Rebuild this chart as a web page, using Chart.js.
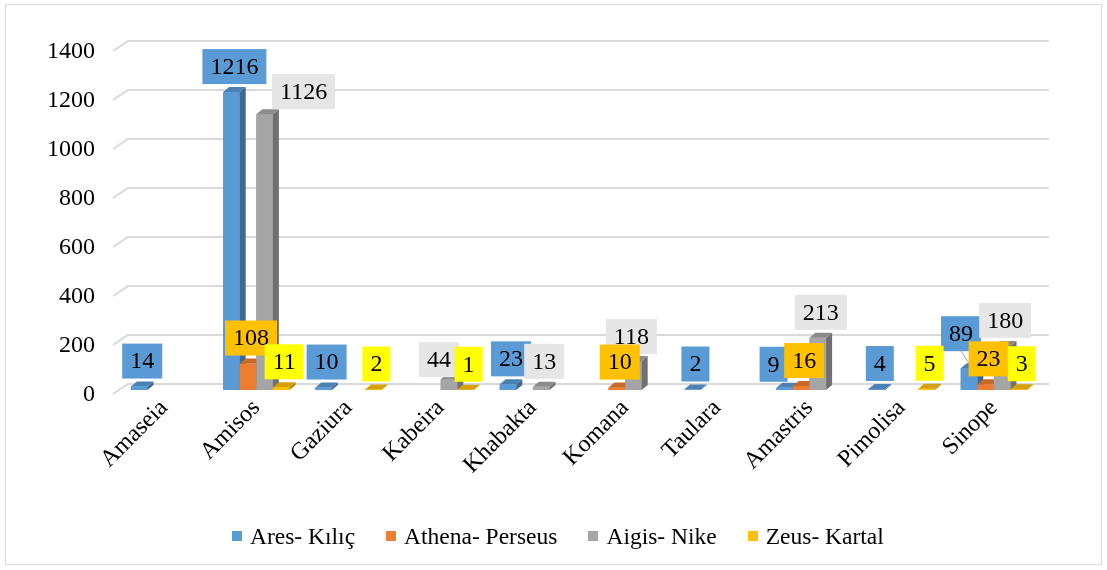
<!DOCTYPE html>
<html>
<head>
<meta charset="utf-8">
<script src="https://cdn.jsdelivr.net/npm/chart.js@4.4.0/dist/chart.umd.min.js"></script>
<style>
  html, body { margin: 0; padding: 0; background: #fff; }
  #wrap { position: relative; width: 1107px; height: 570px; }
  #frame { position: absolute; left: 5px; top: 4px; width: 1097px; height: 561px; border: 1px solid #d9d9d9; box-sizing: border-box; pointer-events: none; }
  #legend { position: absolute; left: 232px; top: 523px; display: flex; align-items: center; font: 23.5px/26px "Liberation Serif", "Times New Roman", serif; color: #000; white-space: nowrap; }
  #legend .item { display: flex; align-items: center; margin-right: 31px; }
  #legend .sw { width: 10px; height: 10px; margin-right: 8px; }
</style>
</head>
<body>
<div id="wrap">
  <canvas id="chart" width="1107" height="570"></canvas>
  <div id="legend"></div>
  <div id="frame"></div>
</div>
<script>
const cities = ['Amaseia', 'Amisos', 'Gaziura', 'Kabeira', 'Khabakta', 'Komana', 'Taulara', 'Amastris', 'Pimolisa', 'Sinope'];
const ares = [14, 1216, 10, null, 23, null, 2, 9, 4, 89];
const athena = [null, 108, null, null, null, 10, null, 16, null, 23];
const aigis = [null, 1126, null, 44, 13, 118, null, 213, null, 180];
const zeus = [null, 11, 2, 1, null, null, null, null, 5, 3];
const seriesNames = ['Ares- Kılıç', 'Athena- Perseus', 'Aigis- Nike', 'Zeus- Kartal'];
const yMax = 1400;
const yStep = 200;

const serif = '"Liberation Serif", "Times New Roman", serif';
const barColors = ['#5B9BD5', '#ED7D31', '#A5A5A5', '#FFC000'];
const labelColors = ['#5B9BD5', '#FFC000', '#E7E6E6', '#FFFF00'];
const depth = { dx: 6, dy: 5 };

// Excel moved a few labels sideways to keep them apart
const labelNudge = {
  '2-1': { x: 36, y: 3 },
  '2-3': { x: -13, y: 6 },
  '2-5': { x: -5, y: 1 },
  '0-7': { x: -14, y: 2 },
  '0-9': { x: -11, y: -9, leader: true }
};

Chart.defaults.font.family = serif;
Chart.defaults.font.size = 22;
Chart.defaults.color = '#000';

const shade = (hex, f) => {
  const n = parseInt(hex.slice(1), 16);
  const r = Math.round(((n >> 16) & 255) * f);
  const g = Math.round(((n >> 8) & 255) * f);
  const b = Math.round((n & 255) * f);
  return `rgb(${r},${g},${b})`;
};

const floorGrid = {
  id: 'floorGrid',
  beforeDatasetsDraw(chart) {
    const { ctx, chartArea, scales } = chart;
    const y = scales.y;
    ctx.save();
    ctx.strokeStyle = '#d9d9d9';
    ctx.lineWidth = 2;
    y.ticks.forEach(t => {
      const py = y.getPixelForValue(t.value);
      ctx.beginPath();
      ctx.moveTo(chartArea.left - 5, py + 4);
      ctx.lineTo(chartArea.left + 10, py - 6);
      ctx.lineTo(chartArea.right + 9, py - 6);
      ctx.stroke();
    });
    ctx.restore();
  }
};

const bars3d = {
  id: 'bars3d',
  afterDatasetsDraw(chart) {
    const ctx = chart.ctx;
    const { dx, dy } = depth;
    ctx.save();
    chart.data.datasets.forEach((ds, i) => {
      const meta = chart.getDatasetMeta(i);
      meta.data.forEach((bar, j) => {
        if (ds.data[j] == null) return;
        const { x, y, base, width } = bar.getProps(['x', 'y', 'base', 'width'], true);
        const l = x - width / 2, r = x + width / 2;
        const c = barColors[i];
        ctx.fillStyle = c;
        ctx.fillRect(l, y, width, base - y);
        ctx.fillStyle = shade(c, 0.68);
        ctx.beginPath();
        ctx.moveTo(r, y); ctx.lineTo(r + dx, y - dy); ctx.lineTo(r + dx, base - dy); ctx.lineTo(r, base);
        ctx.closePath(); ctx.fill();
        ctx.fillStyle = shade(c, 0.84);
        ctx.beginPath();
        ctx.moveTo(l, y); ctx.lineTo(l + dx, y - dy); ctx.lineTo(r + dx, y - dy); ctx.lineTo(r, y);
        ctx.closePath(); ctx.fill();
      });
    });

    ctx.font = `24px ${serif}`;
    ctx.textAlign = 'center';
    ctx.textBaseline = 'middle';
    [0, 2, 1, 3].forEach(i => {
      const ds = chart.data.datasets[i];
      const meta = chart.getDatasetMeta(i);
      meta.data.forEach((bar, j) => {
        const v = ds.data[j];
        if (v == null) return;
        const { x, y } = bar.getProps(['x', 'y'], true);
        const nudge = labelNudge[`${i}-${j}`] || { x: 0, y: 0 };
        const text = String(v);
        const w = ctx.measureText(text).width + 16;
        const h = 35;
        const cx = x + dx / 2 + nudge.x;
        const bottom = y - dy - 3 + nudge.y;
        if (nudge.leader) {
          ctx.strokeStyle = '#a6a6a6';
          ctx.lineWidth = 1;
          ctx.beginPath();
          ctx.moveTo(cx, bottom);
          ctx.lineTo(x, y - dy);
          ctx.stroke();
        }
        ctx.fillStyle = labelColors[i];
        ctx.fillRect(cx - w / 2, bottom - h, w, h);
        ctx.fillStyle = '#000';
        ctx.fillText(text, cx, bottom - h / 2 + 1);
      });
    });
    ctx.restore();
  }
};

const chart = new Chart(document.getElementById('chart'), {
  type: 'bar',
  data: {
    labels: cities,
    datasets: [ares, athena, aigis, zeus].map((d, i) => ({
      label: seriesNames[i],
      data: d,
      backgroundColor: barColors[i],
      borderWidth: 0,
      barPercentage: 1,
      categoryPercentage: 0.72
    }))
  },
  options: {
    responsive: false,
    devicePixelRatio: 1,
    animation: false,
    layout: { padding: { left: 0, right: 67, top: 47, bottom: 68 } },
    plugins: {
      legend: { display: false },
      tooltip: { enabled: false }
    },
    scales: {
      x: {
        grid: { display: false },
        border: { display: false },
        ticks: {
          color: '#000',
          font: { family: serif, size: 24 },
          minRotation: 45,
          maxRotation: 45,
          padding: -4
        },
        afterFit: s => { s.height = 112; }
      },
      y: {
        min: 0,
        max: yMax,
        grid: { display: false },
        border: { display: false },
        ticks: {
          stepSize: yStep,
          color: '#000',
          font: { family: serif, size: 24 },
          padding: 15,
          labelOffset: 5,
          callback: v => String(v)
        },
        afterFit: s => { s.width = 118; }
      }
    }
  },
  plugins: [floorGrid, bars3d]
});

// legend built from the chart's own datasets
const legend = document.getElementById('legend');
chart.data.datasets.forEach(ds => {
  const item = document.createElement('span');
  item.className = 'item';
  const sw = document.createElement('span');
  sw.className = 'sw';
  sw.style.background = ds.backgroundColor;
  item.appendChild(sw);
  item.appendChild(document.createTextNode(ds.label));
  legend.appendChild(item);
});
</script>
</body>
</html>
